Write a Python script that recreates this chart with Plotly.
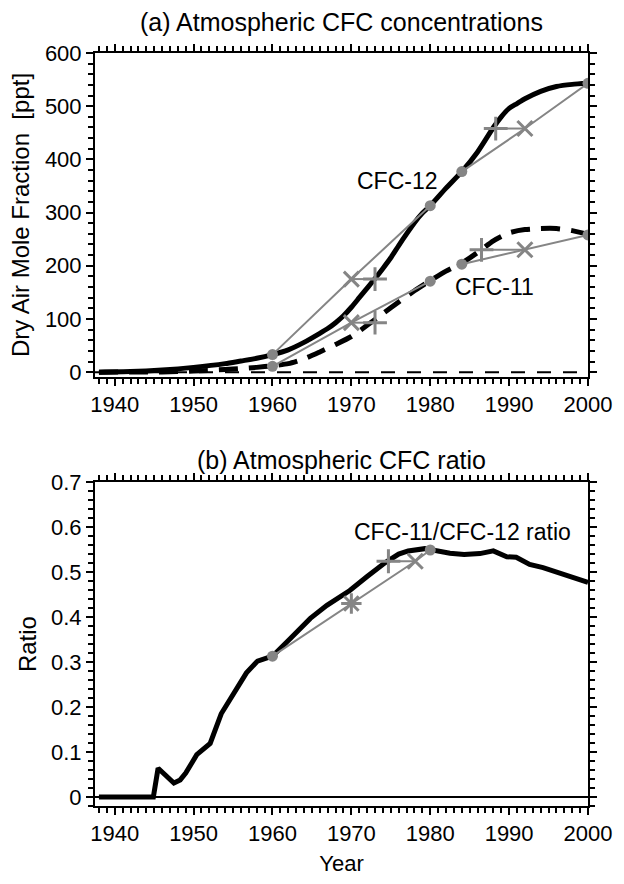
import plotly.graph_objects as go

# ---------------- data ----------------
cfc12_years = [1938, 1942, 1946, 1950, 1954, 1956, 1958, 1960, 1962, 1964, 1966, 1967, 1968, 1969,
               1970, 1971, 1972, 1973, 1974, 1975, 1976, 1977, 1978, 1979, 1980, 1982, 1984,
               1986, 1988, 1989, 1990, 1991, 1992, 1994, 1996, 1998, 2000]
cfc12_ppt = [0, 1, 4, 9, 16, 21, 26, 33, 42, 56, 73, 82, 93, 106,
             122, 140, 158, 176, 195, 215, 238, 260, 281, 299, 313, 346, 377,
             414, 460, 480, 496, 505, 514, 528, 537, 541, 543]

cfc11_years = [1938, 1946, 1950, 1954, 1956, 1958, 1960, 1962, 1964, 1966, 1968, 1970, 1972,
               1974, 1976, 1978, 1980, 1982, 1984, 1986, 1988, 1990, 1992, 1994, 1996, 1998, 2000]
cfc11_ppt = [0, 0.5, 2, 5, 7, 9, 12, 16, 25, 38, 52, 67, 88,
             110, 132, 153, 172, 190, 205, 225, 247, 262, 268, 270, 270, 266, 259]

ratio_years = [1938, 1944.9, 1945.5, 1946.5, 1947.5, 1948.3, 1949, 1950.4, 1952.1, 1953.5,
               1955.2, 1956.7, 1958.1, 1960, 1962.3, 1964.8, 1966.9, 1969.8, 1972, 1974.3,
               1976, 1977.2, 1979.3, 1980.6, 1982.5, 1984.3, 1986.3, 1988, 1989.7, 1990.9,
               1992.6, 1994.3, 1996.8, 2000]
ratio_vals = [0, 0, 0.064, 0.047, 0.031, 0.038, 0.053, 0.094, 0.119, 0.185,
              0.236, 0.276, 0.302, 0.313, 0.353, 0.397, 0.426, 0.459, 0.49, 0.521,
              0.54, 0.547, 0.552, 0.547, 0.542, 0.539, 0.541, 0.547, 0.534, 0.533,
              0.517, 0.51, 0.495, 0.477]

# observation / tracer-age markers
obs_years = [1960, 1980, 1984, 2000]
cfc12_obs = [33, 313, 377, 543]
cfc11_obs = [11, 171, 203, 258]

cross_x_years = [1970, 1992]          # "x" markers
cfc12_x_vals = [175, 458]
cfc11_x_vals = [93, 230]

plus_years_12 = [1973, 1988.3]        # "+" markers
plus_years_11 = [1973, 1986.5]

ratio_obs_years = [1960, 1980]
ratio_obs_vals = [0.313, 0.549]
ratio_star_year = [1970]
ratio_star_val = [0.43]
ratio_plus_year = [1974.7]
ratio_x_year = [1978.1]
ratio_px_val = [0.524]

# ---------------- style ----------------
GRAY = "#858585"
FONT = "Liberation Sans, Arial, Helvetica, sans-serif"
TICKF = 22

fig = go.Figure()

def black(xs, ys, xa, ya, dash="solid", shape="linear"):
    fig.add_trace(go.Scatter(x=xs, y=ys, mode="lines", xaxis=xa, yaxis=ya,
                             line=dict(color="black", width=5, dash=dash, shape=shape, smoothing=0.6),
                             showlegend=False, hoverinfo="skip"))

def gray_path(xs, ys, xa, ya):
    fig.add_trace(go.Scatter(x=xs, y=ys, mode="lines", xaxis=xa, yaxis=ya,
                             line=dict(color=GRAY, width=2),
                             showlegend=False, hoverinfo="skip"))

def gray_marks(xs, ys, xa, ya, symbol, size, lw=0):
    fig.add_trace(go.Scatter(x=xs, y=ys, mode="markers", xaxis=xa, yaxis=ya,
                             marker=dict(symbol=symbol, size=size, color=GRAY,
                                         line=dict(color=GRAY, width=lw)),
                             showlegend=False, hoverinfo="skip"))

# ---- panel (a) ----
black(cfc12_years, cfc12_ppt, "x", "y", shape="spline")
black(cfc11_years, cfc11_ppt, "x", "y", dash="19px,11px", shape="spline")

for obs, xv, plus_y in [(cfc12_obs, cfc12_x_vals, plus_years_12),
                        (cfc11_obs, cfc11_x_vals, plus_years_11)]:
    path_x = [obs_years[0], cross_x_years[0], obs_years[1], None,
              obs_years[2], cross_x_years[1], obs_years[3], None,
              cross_x_years[0], plus_y[0], None, plus_y[1], cross_x_years[1]]
    path_y = [obs[0], xv[0], obs[1], None,
              obs[2], xv[1], obs[3], None,
              xv[0], xv[0], None, xv[1], xv[1]]
    gray_path(path_x, path_y, "x", "y")
    gray_marks(obs_years, obs, "x", "y", "circle", 11)
    gray_marks(cross_x_years, xv, "x", "y", "x-thin", 15, 3)
    gray_marks(plus_y, xv, "x", "y", "cross-thin", 17, 3)

# ---- panel (b) ----
black(ratio_years, ratio_vals, "x2", "y2")
gray_path([ratio_obs_years[0], ratio_star_year[0], ratio_x_year[0], ratio_obs_years[1], None,
           ratio_plus_year[0], ratio_x_year[0]],
          [ratio_obs_vals[0], ratio_star_val[0], ratio_px_val[0], ratio_obs_vals[1], None,
           ratio_px_val[0], ratio_px_val[0]], "x2", "y2")
gray_marks(ratio_obs_years, ratio_obs_vals, "x2", "y2", "circle", 11)
gray_marks(ratio_star_year, ratio_star_val, "x2", "y2", "asterisk", 17, 3)
gray_marks(ratio_plus_year, ratio_px_val, "x2", "y2", "cross-thin", 17, 3)
gray_marks(ratio_x_year, ratio_px_val, "x2", "y2", "x-thin", 15, 3)

# ---------------- axes ----------------
XRANGE = [1937.5, 2000]
Y1RANGE = [-9, 600]
Y2RANGE = [-0.02, 0.7]
DOM_TOP = [0.5698, 1]
DOM_BOT = [0, 0.4302]

MAJ = dict(ticks="outside", ticklen=7, tickwidth=2, tickcolor="#000000",
           showgrid=False, zeroline=False)

def minor(dt, t0):
    return dict(dtick=dt, tick0=t0, ticks="outside", ticklen=5, tickwidth=1.5,
                tickcolor="#000000", showgrid=False)

def xax(anchor, title=None):
    d = dict(range=XRANGE, anchor=anchor, domain=[0, 1],
             tickmode="linear", dtick=10, tick0=1940, minor=minor(1, 1940),
             showline=True, linecolor="black", linewidth=2, mirror="ticks",
             tickfont=dict(family=FONT, size=TICKF, color="black"),
             **MAJ)
    if title:
        d["title"] = dict(text=title, font=dict(family=FONT, size=TICKF, color="black"), standoff=10)
    return d

def yax(anchor, rng, dtick, mdt, domain, title):
    return dict(range=rng, anchor=anchor, domain=domain, tickmode="linear", dtick=dtick, tick0=0,
                minor=minor(mdt, 0),
                showline=True, linecolor="black", linewidth=2, mirror="ticks",
                tickfont=dict(family=FONT, size=TICKF, color="black"),
                title=dict(text=title, font=dict(family=FONT, size=24, color="black"), standoff=8),
                **MAJ)

# tick-only companion axes (top / right) on their own transparent subplot
def xtop(anchor):
    return dict(range=XRANGE, anchor=anchor, domain=[0, 1], side="top",
                tickmode="linear", dtick=10, tick0=1940, minor=minor(1, 1940),
                showticklabels=False, showline=False, fixedrange=True, **MAJ)

def yright(anchor, rng, dtick, mdt, domain):
    return dict(range=rng, anchor=anchor, domain=domain, side="right",
                tickmode="linear", dtick=dtick, tick0=0, minor=minor(mdt, 0),
                showticklabels=False, showline=False, fixedrange=True, **MAJ)

fig.update_layout(
    width=624, height=884,
    margin=dict(l=95, r=29, t=53, b=67),
    paper_bgcolor="white", plot_bgcolor="rgba(0,0,0,0)",
    showlegend=False,
    xaxis=xax("y"),
    yaxis=yax("x", Y1RANGE, 100, 20, DOM_TOP, "Dry Air Mole Fraction \u00a0[ppt]"),
    xaxis2=xax("y2", "Year"),
    yaxis2=yax("x2", Y2RANGE, 0.1, 0.02, DOM_BOT, "Ratio"),
    xaxis3=xtop("y3"),
    yaxis3=yright("x3", Y1RANGE, 100, 20, DOM_TOP),
    xaxis4=xtop("y4"),
    yaxis4=yright("x4", Y2RANGE, 0.1, 0.02, DOM_BOT),
    shapes=[
        dict(type="line", xref="x domain", yref="y", x0=0, x1=1, y0=0, y1=0,
             line=dict(color="black", width=2, dash="14px,12px"), layer="below"),
        dict(type="line", xref="x2 domain", yref="y2", x0=0, x1=1, y0=0, y1=0,
             line=dict(color="black", width=2), layer="below"),
    ],
    annotations=[
        dict(text="(a) Atmospheric CFC concentrations", xref="paper", yref="paper",
             x=0.5, y=1.0406, xanchor="center", yanchor="middle", showarrow=False,
             font=dict(family=FONT, size=25, color="black")),
        dict(text="(b) Atmospheric CFC ratio", xref="paper", yref="paper",
             x=0.5, y=0.4594, xanchor="center", yanchor="middle", showarrow=False,
             font=dict(family=FONT, size=25, color="black")),
        dict(text="CFC-12", xref="x", yref="y", x=1975.9, y=359, showarrow=False,
             xanchor="center", yanchor="middle", font=dict(family=FONT, size=23, color="black")),
        dict(text="CFC-11", xref="x", yref="y", x=1988.1, y=160, showarrow=False,
             xanchor="center", yanchor="middle", font=dict(family=FONT, size=23, color="black")),
        dict(text="CFC-11/CFC-12 ratio", xref="x2", yref="y2", x=1984.1, y=0.59, showarrow=False,
             xanchor="center", yanchor="middle", font=dict(family=FONT, size=23, color="black")),
    ],
)

fig.write_html("out.html", config={"displayModeBar": False},
               post_script="document.body.style.margin='0';")
